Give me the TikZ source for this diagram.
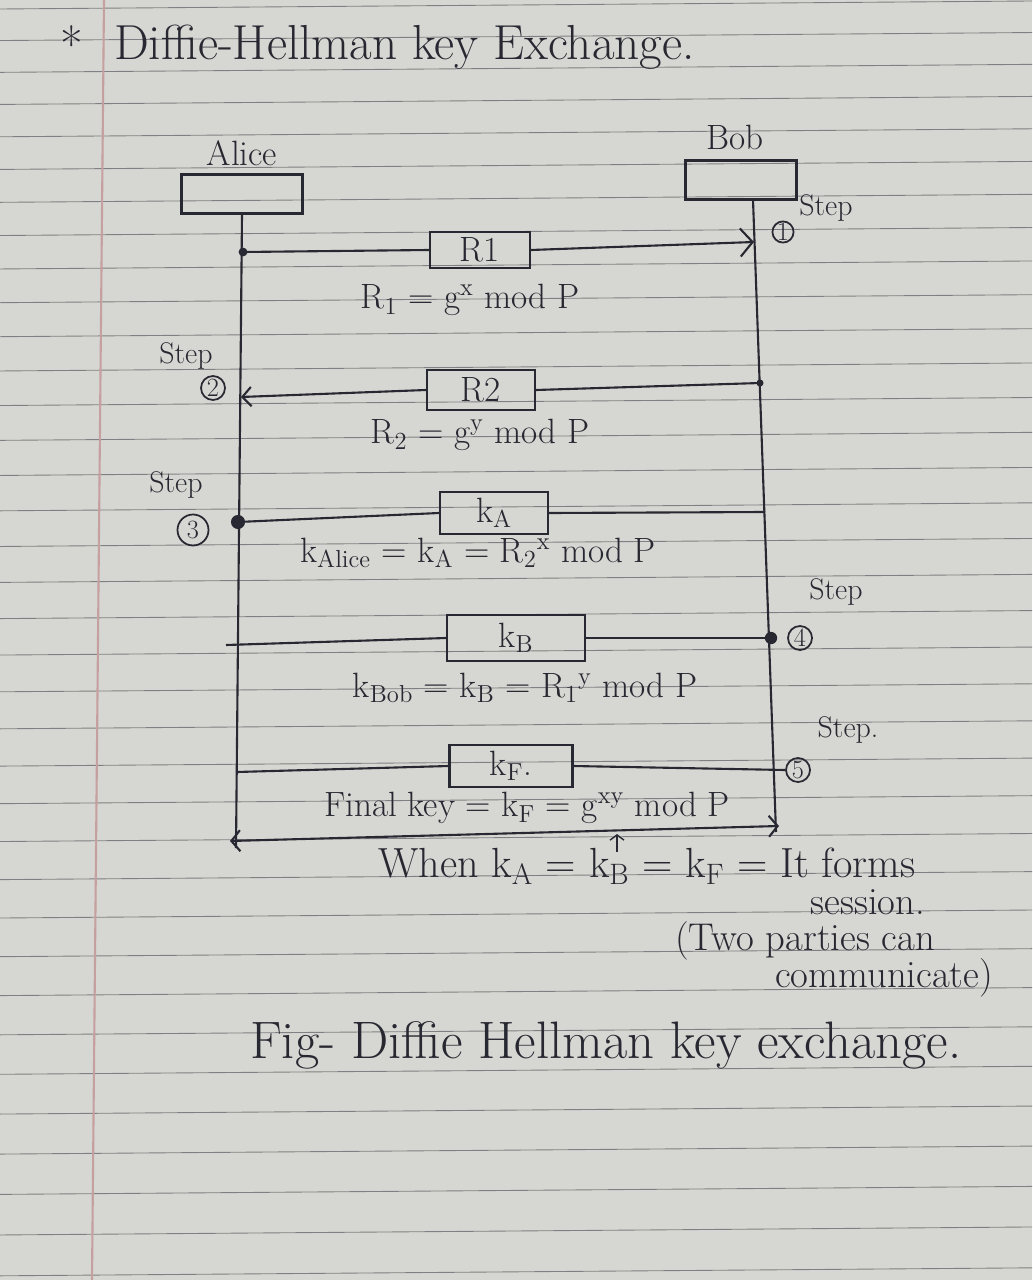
\documentclass[tikz,border=0pt]{standalone}
\usepackage{fontspec}
\usetikzlibrary{arrows.meta}
\definecolor{ink}{RGB}{40,40,50}
\definecolor{paper}{RGB}{214,214,210}
\definecolor{ruleline}{RGB}{128,128,132}
\definecolor{marginline}{RGB}{198,160,160}
\newcommand{\lo}[1]{\textsubscript{#1}}
\newcommand{\hi}[1]{\textsuperscript{#1}}

\begin{document}
\begin{tikzpicture}[
    x=0.02cm, y=-0.02cm,
    every node/.style={text=ink,font=\fontsize{20}{24}\selectfont},
    actor/.style={draw=ink,line width=1.2pt,minimum height=0.78cm},
    msgbox/.style={draw=ink,line width=1.2pt,minimum height=0.8cm},
    stepnum/.style={circle,draw=ink,line width=1pt,inner sep=0pt,minimum size=0.48cm,font=\fontsize{15}{16}\selectfont},
    steplbl/.style={font=\fontsize{17}{20}\selectfont},
    notes/.style={font=\fontsize{22}{26}\selectfont},
    wire/.style={draw=ink,line width=1.2pt},
    barbarrow/.style={wire,-{Straight Barb[length=7pt,width=16pt]}},
    inkdot/.style={circle,fill=ink,inner sep=0pt,minimum size=#1},
    inkdot/.default=4pt
]
    % page of the notebook: x and y are pixels of the photo
    \useasboundingbox (0,0) rectangle (1032,1280);
    \fill[paper] (0,0) rectangle (1032,1280);
    \foreach \i in {0,...,36}{
        \draw[ruleline,line width=0.5pt] (0,{9+31.4*\i+0.137*\i*\i}) -- (1032,{1+31.4*\i+0.137*\i*\i});
    }
    \draw[marginline,line width=1.2pt] (104,0) -- (92,1280);

    % heading
    \node[font=\fontsize{28}{30}\selectfont] (star) at (72,44) {*};
    \node[anchor=west,font=\fontsize{28}{32}\selectfont] (title) at (108,47) {Diffie-Hellman key Exchange.};

    % the two parties
    \node (alice) at (242,153) {Alice};
    \node[actor,minimum width=2.42cm] (alicebox) at (242,194) {};
    \node (bob) at (735,137) {Bob};
    \node[actor,minimum width=2.22cm] (bobbox) at (741,180) {};

    \coordinate (aend) at (236,848);
    \coordinate (btop) at (753,200);
    \coordinate (bend) at (776,832);
    \draw[wire] (alicebox.south) -- (aend);
    \draw[wire] (btop) -- (bend);

    % step 1: R1 from Alice to Bob
    \node[msgbox,minimum width=2cm,minimum height=0.7cm] (r1) at (480,250) {R1};
    \coordinate (a1) at (243,252);
    \coordinate (b1) at (754,242);
    \node[inkdot=5pt] (a1dot) at (a1) {};
    \draw[wire] (a1) -- (r1.west);
    \draw[barbarrow] (r1.east) -- (b1);
    \node (r1eq) at (470,300) {R\lo{1} = g\hi{x} mod P};
    \node[stepnum,minimum size=0.42cm] (s1) at (783,232) {1};
    \node[steplbl] (s1lbl) at (826,208) {Step};

    % step 2: R2 from Bob to Alice
    \node[msgbox,minimum width=2.16cm] (r2) at (481,390) {R2};
    \coordinate (b2) at (760,383);
    \coordinate (a2) at (241,397);
    \node[inkdot] (b2dot) at (b2) {};
    \draw[wire] (b2) -- (r2.east);
    \draw[wire,-{Straight Barb[length=5pt,width=11pt]}] (r2.west) -- (a2);
    \node (r2eq) at (480,435) {R\lo{2} = g\hi{y} mod P};
    \node[stepnum] (s2) at (213,388) {2};
    \node[steplbl] (s2lbl) at (186,356) {Step};

    % step 3: Alice computes kA
    \node[msgbox,minimum width=2.16cm] (ka) at (494,513) {k\lo{A}};
    \coordinate (a3) at (238,522);
    \coordinate (b3) at (765,512);
    \node[inkdot=8pt] (a3dot) at (a3) {};
    \draw[wire] (a3) -- (ka.west);
    \draw[wire] (ka.east) -- (b3);
    \node (kaeq) at (478,553) {k\lo{Alice} = k\lo{A} = R\lo{2}\hi{x} mod P};
    \node[stepnum,minimum size=0.62cm] (s3) at (193,530) {3};
    \node[steplbl] (s3lbl) at (176,485) {Step};

    % step 4: Bob computes kB
    \node[msgbox,minimum width=2.76cm,minimum height=0.92cm] (kb) at (516,638) {k\lo{B}};
    \coordinate (a4) at (226,645);
    \coordinate (b4) at (771,638);
    \node[inkdot=7pt] (b4dot) at (b4) {};
    \draw[wire] (a4) -- (kb.west);
    \draw[wire] (kb.east) -- (b4);
    \node (kbeq) at (525,688) {k\lo{Bob} = k\lo{B} = R\lo{1}\hi{y} mod P};
    \node[stepnum] (s4) at (800,638) {4};
    \node[steplbl] (s4lbl) at (836,592) {Step};

    % step 5: final key
    \node[msgbox,minimum width=2.46cm,minimum height=0.84cm] (kf) at (511,766) {k\lo{F}.};
    \coordinate (a5) at (237,772);
    \node[stepnum] (s5) at (798,770) {5};
    \draw[wire] (a5) -- (kf.west);
    \draw[wire] (kf.east) -- (s5.west);
    \node (kfeq) at (527,808) {Final key = k\lo{F} = g\hi{xy} mod P};
    \node[steplbl] (s5lbl) at (848,730) {Step.};

    % session between both parties
    \coordinate (dl) at (230,841);
    \coordinate (dr) at (779,826);
    \draw[wire,{Straight Barb[length=5pt,width=12pt]}-{Straight Barb[length=5pt,width=12pt]}] (dl) -- (dr);
    \node[anchor=west,font=\fontsize{24}{28}\selectfont] (when) at (372,866) {When k\lo{A} = k\lo{B} = k\lo{F} = It forms};
    \coordinate (up) at (617,834);
    \draw[wire,line width=0.8pt,-{Straight Barb[length=3pt,width=8pt]}] ([yshift=8pt]up |- when.center) -- (up);
    \node[notes] (session) at (868,902) {session.};
    \node[notes] (two) at (805,941) {(Two parties can};
    \node[notes] (comm) at (884,978) {communicate)};

    \node[anchor=west,font=\fontsize{30}{34}\selectfont] (caption) at (244,1045) {Fig- Diffie Hellman key exchange.};
\end{tikzpicture}
\end{document}
